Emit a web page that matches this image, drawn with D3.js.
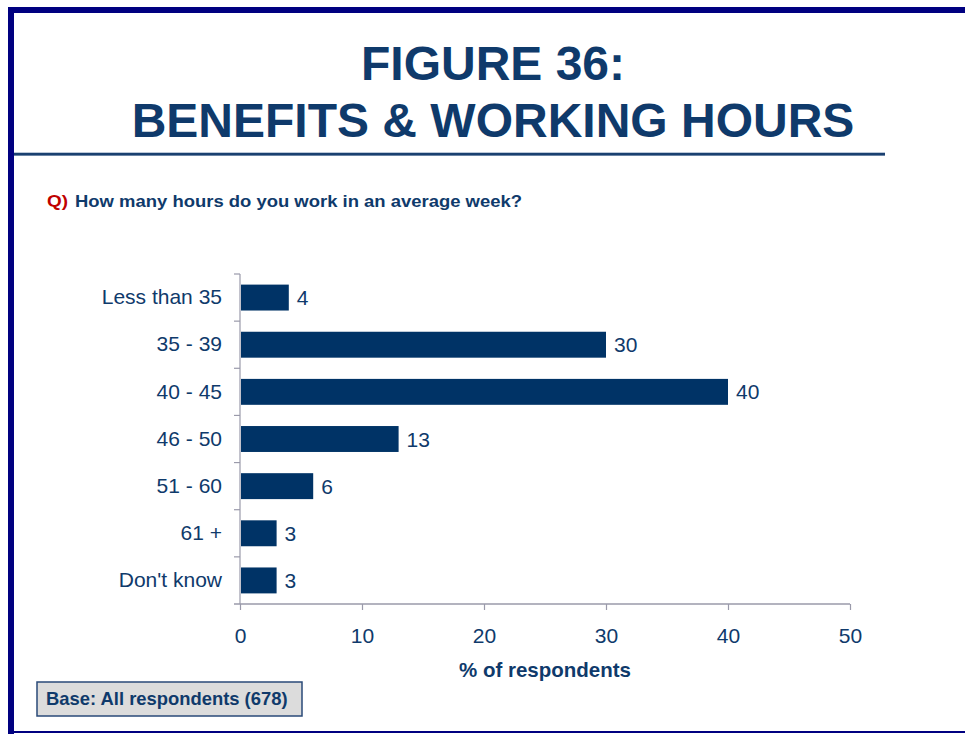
<!DOCTYPE html>
<html>
<head>
<meta charset="utf-8">
<script src="https://cdn.jsdelivr.net/npm/d3@7"></script>
<style>
  html, body { margin: 0; padding: 0; background: #ffffff; }
  svg { display: block; }
  text { font-family: "Liberation Sans", Arial, sans-serif; }
</style>
</head>
<body>
<svg id="chart" width="965" height="734"></svg>
<script>
// Hours worked per week, % of respondents
const categories = ["Less than 35", "35 - 39", "40 - 45", "46 - 50", "51 - 60", "61 +", "Don't know"];
const values = [4, 30, 40, 13, 6, 3, 3];
const xTicks = [0, 10, 20, 30, 40, 50];

const titleLines = ["FIGURE 36:", "BENEFITS & WORKING HOURS"];
const questionPrefix = "Q)";
const questionText = "How many hours do you work in an average week?";
const axisTitle = "% of respondents";
const baseNote = "Base: All respondents (678)";

const navy = "#0f3a6b";
const barColor = "#003366";
const axisColor = "#9a9aaa";
const labelSize = 21;

const svg = d3.select("#chart");

// Slide frame
svg.append("rect").attr("x", 8).attr("y", 7).attr("width", 957).attr("height", 6).attr("fill", "#000080");
svg.append("rect").attr("x", 8).attr("y", 7).attr("width", 6).attr("height", 727).attr("fill", "#000080");
svg.append("rect").attr("x", 8).attr("y", 731).attr("width", 957).attr("height", 2).attr("fill", "#000080");

// Title
svg.selectAll("text.title")
  .data(titleLines)
  .join("text")
  .attr("class", "title")
  .attr("x", 493)
  .attr("y", (d, i) => 80 + i * 57)
  .attr("text-anchor", "middle")
  .attr("font-size", 48)
  .attr("font-weight", "bold")
  .attr("fill", navy)
  .text(d => d);

// Rule under title
svg.append("rect").attr("x", 14).attr("y", 152).attr("width", 871).attr("height", 4).attr("fill", "#bcc8d8");
svg.append("rect").attr("x", 14).attr("y", 153).attr("width", 871).attr("height", 2.5).attr("fill", "#1a4070");

// Question
svg.append("text")
  .attr("x", 47)
  .attr("y", 207)
  .attr("font-size", 17)
  .attr("font-weight", "bold")
  .attr("fill", "#c00000")
  .attr("textLength", 21)
  .attr("lengthAdjust", "spacingAndGlyphs")
  .text(questionPrefix);
svg.append("text")
  .attr("x", 75)
  .attr("y", 207)
  .attr("font-size", 16.5)
  .attr("font-weight", "bold")
  .attr("fill", navy)
  .attr("textLength", 447)
  .attr("lengthAdjust", "spacingAndGlyphs")
  .text(questionText);

// Scales
const x = d3.scaleLinear().domain([0, 50]).range([240, 850]);
const y = d3.scaleBand().domain(categories).range([274, 604]).paddingInner(0.45).paddingOuter(0.225);

// Y axis
const yAxis = svg.append("g")
  .attr("transform", "translate(240,0)")
  .call(d3.axisLeft(y).tickSize(0).tickPadding(18));
yAxis.select(".domain").attr("stroke", axisColor).attr("stroke-width", 1.2)
  .attr("d", "M0,274V604");
yAxis.selectAll("text")
  .attr("font-size", labelSize)
  .attr("fill", navy)
  .attr("font-family", "Liberation Sans, Arial, sans-serif");
// Category separator ticks
const sepPositions = d3.range(categories.length).map(i => 274 + i * y.step());
yAxis.selectAll("line.sep")
  .data(sepPositions)
  .join("line")
  .attr("class", "sep")
  .attr("x1", -6).attr("x2", 0)
  .attr("y1", d => d).attr("y2", d => d)
  .attr("stroke", axisColor).attr("stroke-width", 1.2);

// X axis
const xAxis = svg.append("g")
  .attr("transform", "translate(0,604)")
  .call(d3.axisBottom(x).tickValues(xTicks).tickSize(6).tickPadding(18).tickSizeOuter(0));
xAxis.select(".domain").attr("stroke", axisColor).attr("stroke-width", 1.6)
  .attr("d", `M234,0H${x(50)}`);
xAxis.selectAll(".tick line").attr("stroke", axisColor).attr("stroke-width", 1.2);
xAxis.selectAll("text")
  .attr("font-size", labelSize)
  .attr("fill", navy)
  .attr("font-family", "Liberation Sans, Arial, sans-serif");

// Bars
svg.selectAll("rect.bar")
  .data(categories)
  .join("rect")
  .attr("class", "bar")
  .attr("x", x(0) + 1)
  .attr("y", d => y(d))
  .attr("width", (d, i) => x(values[i]) - x(0) - 1)
  .attr("height", y.bandwidth())
  .attr("fill", barColor);

// Value labels
svg.selectAll("text.val")
  .data(categories)
  .join("text")
  .attr("class", "val")
  .attr("x", (d, i) => x(values[i]) + 8)
  .attr("y", d => y(d) + y.bandwidth() / 2)
  .attr("dy", "0.36em")
  .attr("font-size", labelSize)
  .attr("fill", navy)
  .text((d, i) => values[i]);

// Axis title
svg.append("text")
  .attr("x", 545)
  .attr("y", 677)
  .attr("text-anchor", "middle")
  .attr("font-size", 20.5)
  .attr("font-weight", "bold")
  .attr("fill", navy)
  .text(axisTitle);

// Base note box
svg.append("rect")
  .attr("x", 37).attr("y", 682).attr("width", 265).attr("height", 34)
  .attr("fill", "#dcdcdc").attr("stroke", "#2a4a78").attr("stroke-width", 1.5);
svg.append("text")
  .attr("x", 46)
  .attr("y", 705)
  .attr("font-size", 18.4)
  .attr("font-weight", "bold")
  .attr("fill", navy)
  .text(baseNote);
</script>
</body>
</html>
